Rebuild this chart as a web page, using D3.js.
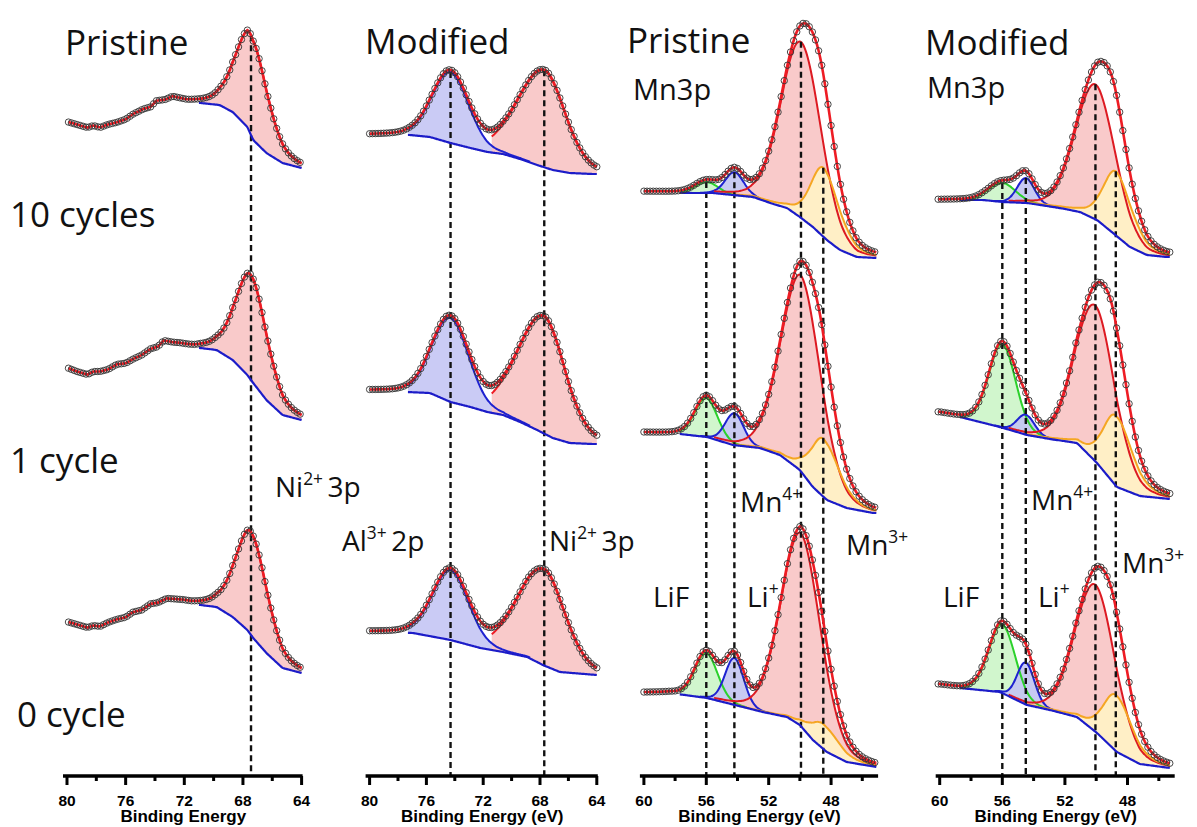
<!DOCTYPE html>
<html><head><meta charset="utf-8">
<script src="https://cdn.jsdelivr.net/npm/d3@7"></script>
<style>body{margin:0;background:#fff;} svg{display:block;}</style>
</head><body><svg id="c" width="1197" height="827"></svg>
<script>
// ================= DATA =================
const niTicks = [80, 76, 72, 68, 64];
const niMinor = [78, 74, 70, 66];
const mnTicks = [60, 56, 52, 48];
const mnMinor = [58, 54, 50, 46];
const cycleLabels = ["0 cycle", "1 cycle", "10 cycles"];

// Backgrounds / raw baseline [binding energy (eV), intensity (a.u., stacked)]
// Panel A: Ni 3p, pristine
const niPriBg0  = [[80,154],[79.3,151],[78.6,148],[78.2,150],[77.75,149],[77.2,153],[76.6,156],[76.0,158],[75.5,163],[74.9,165],[74.3,171],[73.8,172],[73.2,176],[72.6,175],[72.1,174],[71.5,172],[70.9,171],[69.8,169],[68.7,159],[67.7,146],[67.3,138],[66.4,123],[65.3,108],[64,103]];
const niPriBg1  = [[80,408],[79.3,404],[78.6,401],[78.2,404],[77.75,404],[77.2,406],[76.6,411],[76.0,412],[75.5,416],[74.9,420],[74.3,426],[73.8,428],[73.4,434],[72.8,432],[72.3,431],[71.7,429],[71.3,428],[70.9,428],[69.8,426],[68.7,416],[67.7,401],[67.3,393],[66.4,376],[65.3,361],[64,356]];
const niPriBg10 = [[80,654],[79.3,651],[78.6,648],[78.2,650],[77.75,648],[77.2,651],[76.6,653],[76.0,656],[75.5,661],[74.8,666],[74.3,668],[73.9,674],[73.3,675],[72.8,678],[72.3,676],[71.8,674],[70.9,673],[69.6,671],[68.7,664],[67.7,649],[67.3,636],[66.4,623],[65.3,613],[64,608]];
const niPriCenters = [67.45];
const niPriHeights = [[103], [105], [100]];           // 0, 1, 10 cycles
// Panel B: Al 2p / Ni 3p, modified
const niModBg0  = [[80,144],[76.94,143],[74.3,136],[72.2,128],[70.6,124],[68.9,119],[67.8,111],[66.6,104],[64,101]];
const niModBg1  = [[80,385],[77.37,384],[75.75,383],[74.3,374],[72.9,369],[71.7,364],[70.6,361],[69.4,354],[68.2,346],[67.1,338],[65.9,333],[64.3,332],[64,332]];
const niModBg10 = [[80,641],[77.15,641],[75.75,639],[74.3,633],[72.9,628],[71.7,624],[70.6,622],[69.4,617],[68.2,611],[67.1,606],[65.9,603],[64.3,602],[64,602]];
const niModCenters = [74.3, 67.7];                     // Al3+ 2p, Ni2+ 3p
const niModHeights = [[70, 96], [84, 117], [71, 97]];
// Panel C: Mn 3p, pristine
const mnPriBg0  = [[60,83],[58.33,83],[55.96,78],[54.16,71],[52.37,64],[50.83,59],[50,51],[49.17,36],[48.27,24],[47,14],[45.06,9]];
const mnPriBg1  = [[60,343],[57.69,342],[55.96,339],[54.29,331],[52.56,328],[51.28,321],[50,306],[49.17,289],[48.27,276],[47,268],[45.3,263],[45.06,263]];
const mnPriBg10 = [[60,584],[56.85,583],[55.57,583],[54.29,581],[53,579],[51.7,572],[50.83,568],[50,559],[49.17,549],[48.27,536],[47.43,526],[46.35,519],[45.06,518]];
const mnPriCenters = [56.0, 54.2, 49.93, 48.5];        // LiF, Li+, Mn4+, Mn3+
const mnPriHeights = [[45, 47, 193, 25], [39, 32, 196, 58], [11, 23, 176, 69]];
// Panel D: Mn 3p, modified
const mnModBg0  = [[60,91],[58.7,88],[56.15,84],[54.42,71],[52.95,66],[51.23,59],[49.95,43],[48.68,24],[47.21,12],[45.29,8],[45,8]];
const mnModBg1  = [[60,363],[58.7,359],[56.15,349],[54.42,341],[52.95,337],[51.23,333],[49.95,313],[48.68,289],[47.21,280],[45.29,277],[45,277]];
const mnModBg10 = [[60,576],[57.23,576],[55.96,574],[54.42,573],[52.31,568],[51.04,564],[49.95,556],[48.93,543],[47.85,529],[46.76,521],[45.48,519],[45,519]];
const mnModCenters = [56.0, 54.5, 50.05, 48.75];
const mnModHeights = [[69, 42, 147, 56], [84, 20, 156, 70], [19, 25, 135, 64]];

// FWHM [high-BE side, low-BE side] and Lorentzian fraction per component
const niPriWidths = [[2.5, 2.6]];  const niPriEta = [0.35];
const niModWidths = [[3.0, 3.0], [4.4, 3.5]];  const niModEta = [0.15, 0.2];
const mnPriWidths = [[1.7, 1.7], [1.4, 1.4], [3.0, 3.0], [1.9, 2.4]];  const mnPriEta = [0.1, 0.1, 0.15, 0.4];
const mnModWidths = [[2.0, 2.0], [1.3, 1.3], [3.0, 3.0], [1.9, 2.4]];  const mnModEta = [0.1, 0.1, 0.15, 0.4];

// ================= STYLE / LAYOUT =================
const RED = "#ee1c24", BLUE = "#1c1cc8";
const compStyle = {
  ni:  {fill: "#f9c6c6", stroke: RED},
  al:  {fill: "#c5c7f4", stroke: "#1e22d0"},
  lif: {fill: "#cdf5c9", stroke: "#2bd12b"},
  li:  {fill: "#c3c5f1", stroke: "#1e22d0"},
  mn4: {fill: "#f9c6c6", stroke: "#dd1a22"},
  mn3: {fill: "#fff2c6", stroke: "#f5a623"}
};

const panels = [
  {domain: [80, 64], range: [67, 301.6], ticks: niTicks, minor: niMinor, title: "Binding Energy",
   bgs: [niPriBg0, niPriBg1, niPriBg10], centers: niPriCenters, heights: niPriHeights,
   widths: niPriWidths, eta: niPriEta, kinds: ["ni"], cuts: [0.01], fitStart: 71, start: 79.9, end: 64},
  {domain: [80, 64], range: [369.6, 596.8], ticks: niTicks, minor: niMinor, title: "Binding Energy (eV)",
   bgs: [niModBg0, niModBg1, niModBg10], centers: niModCenters, heights: niModHeights,
   widths: niModWidths, eta: niModEta, kinds: ["al", "ni"], cuts: [0.02, 0.16], fitStart: 77.3, start: 80, end: 64},
  {domain: [60, 45.05], range: [643.9, 877.1], ticks: mnTicks, minor: mnMinor, title: "Binding Energy (eV)",
   bgs: [mnPriBg0, mnPriBg1, mnPriBg10], centers: mnPriCenters, heights: mnPriHeights,
   widths: mnPriWidths, eta: mnPriEta, kinds: ["lif", "li", "mn4", "mn3"], cuts: [0.01, 0.01, 0.01, 0.01], fitStart: 57.7, start: 60, end: 45.06},
  {domain: [60, 45.05], range: [939.7, 1173.7], ticks: mnTicks, minor: mnMinor, title: "Binding Energy (eV)",
   bgs: [mnModBg0, mnModBg1, mnModBg10], centers: mnModCenters, heights: mnModHeights,
   widths: mnModWidths, eta: mnModEta, kinds: ["lif", "li", "mn4", "mn3"], cuts: [0.01, 0.01, 0.01, 0.01], fitStart: 58.7, start: 60.1, end: 45.3}
];

const axisY = 776;
const svg = d3.select("#c");
const y = d3.scaleLinear().domain([0, 776]).range([axisY, 0]);

function peakVal(E, c, w, eta, h) {
  const d = E - c;
  const fw = d > 0 ? w[0] : w[1];
  const s = (d / fw) * (d / fw);
  return h * ((1 - eta) * Math.exp(-4 * Math.LN2 * s) + eta / (1 + 4 * s));
}

const gFill = svg.append("g"), gComp = svg.append("g"), gDash = svg.append("g"),
      gBg = svg.append("g"), gEnv = svg.append("g"), gPts = svg.append("g"), gAxis = svg.append("g");

panels.forEach(P => {
  const x = d3.scaleLinear().domain(P.domain).range(P.range);
  const step = 0.1;
  const n = Math.round((P.start - P.end) / step);
  const E = d3.range(0, n + 1).map(i => P.start - i * step);

  P.bgs.forEach((bgArr, si) => {
    const bgS = d3.scaleLinear().domain(bgArr.map(d => d[0])).range(bgArr.map(d => d[1])).clamp(true);
    const hs = P.heights[si];
    const rows = E.map(e => {
      const comps = P.centers.map((c, k) => peakVal(e, c, P.widths[k], P.eta[k], hs[k]));
      const b = bgS(e);
      return {e, b, comps, env: b + d3.sum(comps)};
    });
    // components (cut only applied on the high-BE side of each peak)
    P.centers.forEach((c, k) => {
      const st = compStyle[P.kinds[k]];
      const pts = rows.filter(r => r.e <= P.fitStart && (r.e < c ? r.comps[k] > 0.01 * hs[k] : r.comps[k] > P.cuts[k] * hs[k]));
      gFill.append("path").datum(pts)
        .attr("fill", st.fill).attr("fill-opacity", 0.92)
        .attr("d", d3.area().curve(d3.curveBasis).x(r => x(r.e)).y0(r => y(r.b)).y1(r => y(r.b + r.comps[k])));
      gComp.append("path").datum(pts)
        .attr("fill", "none").attr("stroke", st.stroke).attr("stroke-width", 2)
        .attr("d", d3.line().curve(d3.curveBasis).x(r => x(r.e)).y(r => y(r.b + r.comps[k])));
    });
    // background line
    gBg.append("path").datum(rows.filter(r => r.e <= P.fitStart + 1e-6))
      .attr("fill", "none").attr("stroke", BLUE).attr("stroke-width", 2.2)
      .attr("d", d3.line().curve(d3.curveBasis).x(r => x(r.e)).y(r => y(r.b)));
    // envelope
    gEnv.append("path").datum(rows)
      .attr("fill", "none").attr("stroke", RED).attr("stroke-width", 2.6)
      .attr("d", d3.line().curve(d3.curveLinear).x(r => x(r.e)).y(r => y(r.env)));
    // measured points
    gPts.selectAll(null).data(rows.filter((r, i) => i % 2 === 0)).enter().append("circle")
      .attr("cx", r => x(r.e)).attr("cy", r => y(r.env)).attr("r", 3.2)
      .attr("fill", "none").attr("stroke", "#333").attr("stroke-width", 0.9);
  });

  // dashed reference lines from top spectrum component peak to axis
  const top = P.bgs.length - 1;
  const bgTop = d3.scaleLinear().domain(P.bgs[top].map(d => d[0])).range(P.bgs[top].map(d => d[1]));
  P.centers.forEach((c, k) => {
    gDash.append("line")
      .attr("x1", x(c)).attr("x2", x(c))
      .attr("y1", y(bgTop(c) + P.heights[top][k])).attr("y2", axisY)
      .attr("stroke", "#111").attr("stroke-width", 2.4).attr("stroke-dasharray", "6,4");
  });

  // axis
  const ax = gAxis.append("g");
  ax.append("line").attr("x1", x(P.domain[0]) - 4).attr("x2", x(P.domain[1]) + 1)
    .attr("y1", axisY).attr("y2", axisY).attr("stroke", "#000").attr("stroke-width", 3.5);
  ax.selectAll(null).data(P.ticks).enter().append("line")
    .attr("x1", d => x(d)).attr("x2", d => x(d)).attr("y1", axisY).attr("y2", axisY + 9)
    .attr("stroke", "#000").attr("stroke-width", 3);
  ax.selectAll(null).data(P.minor).enter().append("line")
    .attr("x1", d => x(d)).attr("x2", d => x(d)).attr("y1", axisY).attr("y2", axisY + 5)
    .attr("stroke", "#000").attr("stroke-width", 3);
  ax.selectAll(null).data(P.ticks).enter().append("text")
    .attr("x", d => x(d)).attr("y", axisY + 30).attr("text-anchor", "middle")
    .attr("font-family", "Liberation Sans, Arial, sans-serif").attr("font-weight", "bold")
    .attr("font-size", 15.5).text(d => d);
  ax.append("text").attr("x", (P.range[0] + P.range[1]) / 2 - 1).attr("y", axisY + 46)
    .attr("text-anchor", "middle").attr("font-family", "Liberation Sans, Arial, sans-serif")
    .attr("font-weight", "bold").attr("font-size", 17).text(P.title);
});

// ================= TEXT LABELS =================
const FONT = "Open Sans, sans-serif";
function label(xp, yp, size, parts) {
  const t = svg.append("text").attr("x", xp).attr("y", yp).attr("font-family", FONT)
    .attr("font-size", size).attr("fill", "#111");
  parts.forEach(p => {
    if (typeof p === "string") t.append("tspan").text(p);
    else t.append("tspan").attr("font-size", size * 0.62).attr("dy", p.sup ? -size * 0.42 : size * 0.42).text(p.t);
  });
}
label(65, 55, 35, ["Pristine"]);
label(365, 54, 35, ["Modified"]);
label(627, 53, 35, ["Pristine"]);
label(633, 100, 29, ["Mn3p"]);
label(925, 55, 35, ["Modified"]);
label(927, 98, 29, ["Mn3p"]);
label(10, 227, 35, [cycleLabels[2]]);
label(10, 473, 35, [cycleLabels[1]]);
label(17, 727, 35, [cycleLabels[0]]);
label(275, 497, 28, ["Ni", {t: "2+", sup: true}, {t: "\u00a0", sup: false}, "3p"]);
label(342, 551, 28, ["Al", {t: "3+", sup: true}, {t: "\u00a0", sup: false}, "2p"]);
label(549, 551, 28, ["Ni", {t: "2+", sup: true}, {t: "\u00a0", sup: false}, "3p"]);
label(740, 512, 28, ["Mn", {t: "4+", sup: true}]);
label(846, 555, 28, ["Mn", {t: "3+", sup: true}]);
label(653, 607, 28, ["LiF"]);
label(747, 607, 28, ["Li", {t: "+", sup: true}]);
label(1031, 510, 28, ["Mn", {t: "4+", sup: true}]);
label(1122, 573, 28, ["Mn", {t: "3+", sup: true}]);
label(943, 607, 28, ["LiF"]);
label(1038, 607, 28, ["Li", {t: "+", sup: true}]);
</script></body></html>
